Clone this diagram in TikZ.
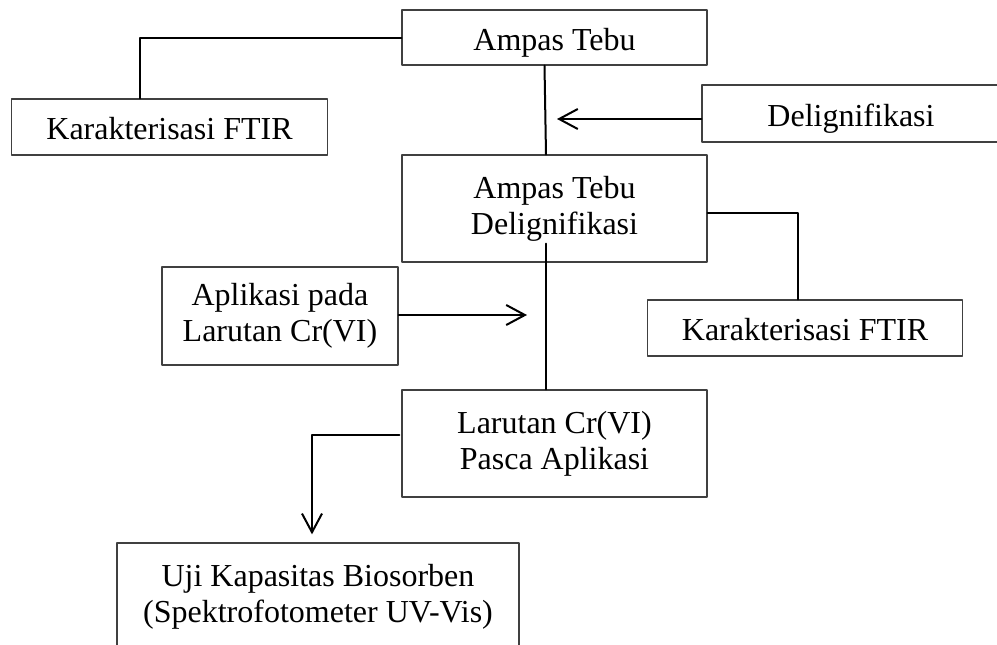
\documentclass[tikz,border=0pt]{standalone}
\usepackage{fontspec}
\setmainfont{Liberation Serif}
\usetikzlibrary{arrows.meta,positioning,calc}

\begin{document}
\begin{tikzpicture}[
    x=0.375pt, y=-0.375pt,
    font=\fontsize{12}{13.5}\selectfont,
    >={Straight Barb[length=7pt,width=7.5pt]},
    line cap=round,
    line join=round,
    box/.style={draw=black!75, line width=0.5pt, align=center, inner sep=0pt},
    oneline/.style={text height=9.4pt, text depth=0pt},
    mainbox/.style={box, minimum width=114.4pt},
    sidebox/.style={box, oneline, minimum width=118.3pt, minimum height=21pt},
    link/.style={line width=0.75pt},
    flow/.style={->, line width=0.75pt}
]
\clip (0,0) rectangle (997,644);

% ------------------------
% Main column
% ------------------------
\node[mainbox, oneline, minimum height=20.6pt] (ampas) at (554.5,37.5) {Ampas Tebu};
\node[mainbox, minimum height=40.1pt] (ampasdel) at (554.5,208.5) {Ampas Tebu\\Delignifikasi};
\node[mainbox, minimum height=40.1pt] (larutan) at (554.5,443.5) {Larutan Cr(VI)\\Pasca Aplikasi};
\node[box, minimum width=150.75pt, minimum height=40.1pt] (uji) at (318,596.5)
    {Uji Kapasitas Biosorben\\(Spektrofotometer UV-Vis)};

% ------------------------
% Side boxes
% ------------------------
\node[sidebox] (ftir1) at (169.5,127) {Karakterisasi FTIR};
\node[sidebox] (ftir2) at (805,328) {Karakterisasi FTIR};
\node[box, oneline, minimum width=111.75pt, minimum height=21.4pt] (delig) at (851,113.5) {Delignifikasi};
\node[box, minimum width=88.5pt, minimum height=36.75pt] (aplik) at (280,316) {Aplikasi pada\\Larutan Cr(VI)};

% ------------------------
% Connectors
% ------------------------
\draw[link] (ampas.west) -| ($(ftir1.north)+(-29.5,0)$);
\draw[link] ($(ampas.south)+(-10,0)$) -- ($(ampasdel.north)+(-8.5,0)$);

\coordinate (deligTip) at (557,119);
\draw[flow] ($(delig.west)+(0,5.5)$) -- (deligTip);

\draw[link] ($(ampasdel.east)+(0,4.5)$) -| ($(ftir2.north)+(-7,0)$);
\draw[link] ($(ampasdel.south)+(-8.5,-19)$) -- ($(larutan.north)+(-8.5,0)$);

\coordinate (aplikTip) at (527,315);
\draw[flow] ($(aplik.east)+(0,-1)$) -- (aplikTip);

\draw[flow] ($(larutan.west)+(-2,-8.5)$) -| ($(uji.north)+(-6,-8)$);

\end{tikzpicture}
\end{document}
